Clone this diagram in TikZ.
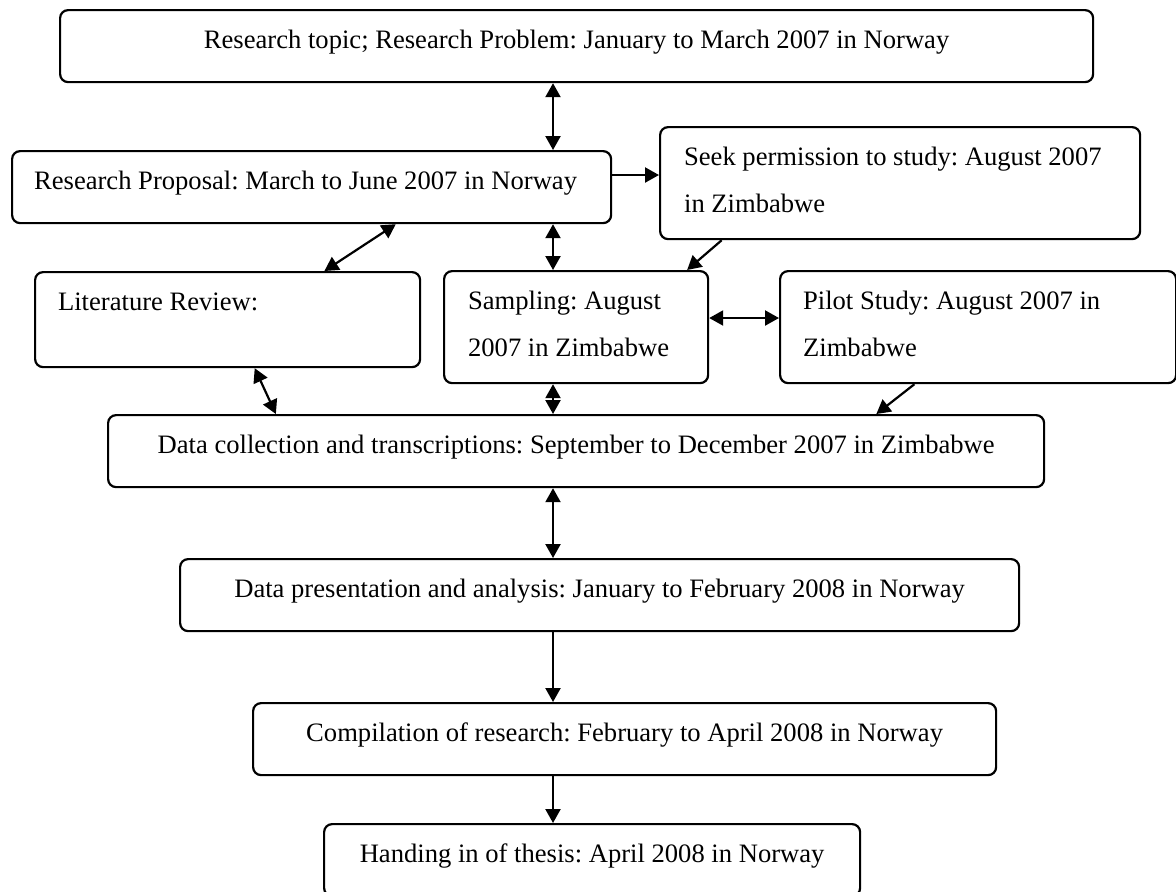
\documentclass[tikz,border=0pt]{standalone}
\usepackage{fontspec}
\setmainfont{Liberation Serif}
\usetikzlibrary{arrows.meta,calc}

\begin{document}
\begin{tikzpicture}[x=0.5pt, y=-0.5pt, line width=1.1pt,
	>={Triangle[length=7pt,width=7.5pt]},
	box/.style = {draw, rounded corners=4pt, anchor=north west, inner ysep=0pt, text height=19pt, font=\fontsize{13.3}{23.5}\selectfont\frenchspacing},
	midbox/.style = {box, inner xsep=0pt, align=center, text depth=17pt, minimum width=#1},
	sidebox/.style 2 args = {box, inner xsep=11.5pt, align=flush left, text width=#1, text depth=#2},]
		\useasboundingbox (0,0) rectangle (1176,891);
		
		\node[midbox=516.5pt] (topic) at (59,9) {Research topic; Research Problem: January to March 2007 in Norway};
		\node[sidebox={277.5pt}{17pt}, inner xsep=11pt] (proposal) at (11,150) {Research Proposal: March to June 2007 in Norway};
		\node[sidebox={216pt}{37pt}, inner xsep=12pt] (permission) at (659,126) {Seek permission to study: August 2007\\in Zimbabwe};
		\node[sidebox={169.5pt}{28.5pt}] (literature) at (34,271) {Literature Review:};
		\node[sidebox={108pt}{37pt}, inner xsep=12pt] (sampling) at (443,270) {Sampling: August\\2007 in Zimbabwe};
		\node[sidebox={175pt}{37pt}] (pilot) at (779,270) {Pilot Study: August 2007 in\\Zimbabwe};
		\node[midbox=468pt] (collection) at (107,414) {Data collection and transcriptions: September to December 2007 in Zimbabwe};
		\node[midbox=419.5pt] (analysis) at (179,558) {Data presentation and analysis: January to February 2008 in Norway};
		\node[midbox=371.5pt] (compilation) at (252,702) {Compilation of research: February to April 2008 in Norway};
		\node[midbox=268pt] (handing) at (323,823) {Handing in of thesis: April 2008 in Norway};
		
		\coordinate (axis) at (553,0);
		\coordinate (row1) at (0,175);
		\coordinate (row2) at (0,318);
		
		\draw[<->] (topic.south -| axis) -- (proposal.north -| axis);
		\draw[->] (proposal.east |- row1) -- (permission.west |- row1);
		\draw[<->] ($(proposal.south west)!0.64!(proposal.south east)$) -- ($(literature.north west)!0.75!(literature.north east)$);
		\draw[<->] (proposal.south -| axis) -- (sampling.north -| axis);
		\draw[->] ($(permission.south west)!0.13!(permission.south east)$) -- ($(sampling.north west)!0.917!(sampling.north east)$);
		\draw[<->] (sampling.east |- row2) -- (pilot.west |- row2);
		\draw[<->] ($(literature.south west)!0.57!(literature.south east)$) -- ($(collection.north west)!0.18!(collection.north east)$);
		\draw[<->] (sampling.south -| axis) -- (collection.north -| axis);
		\draw[->] ($(pilot.south west)!0.34!(pilot.south east)$) -- ($(collection.north west)!0.82!(collection.north east)$);
		\draw[<->] (collection.south -| axis) -- (analysis.north -| axis);
		\draw[->] (analysis.south -| axis) -- (compilation.north -| axis);
		\draw[->] (compilation.south -| axis) -- (handing.north -| axis);
	\end{tikzpicture}
\end{document}
